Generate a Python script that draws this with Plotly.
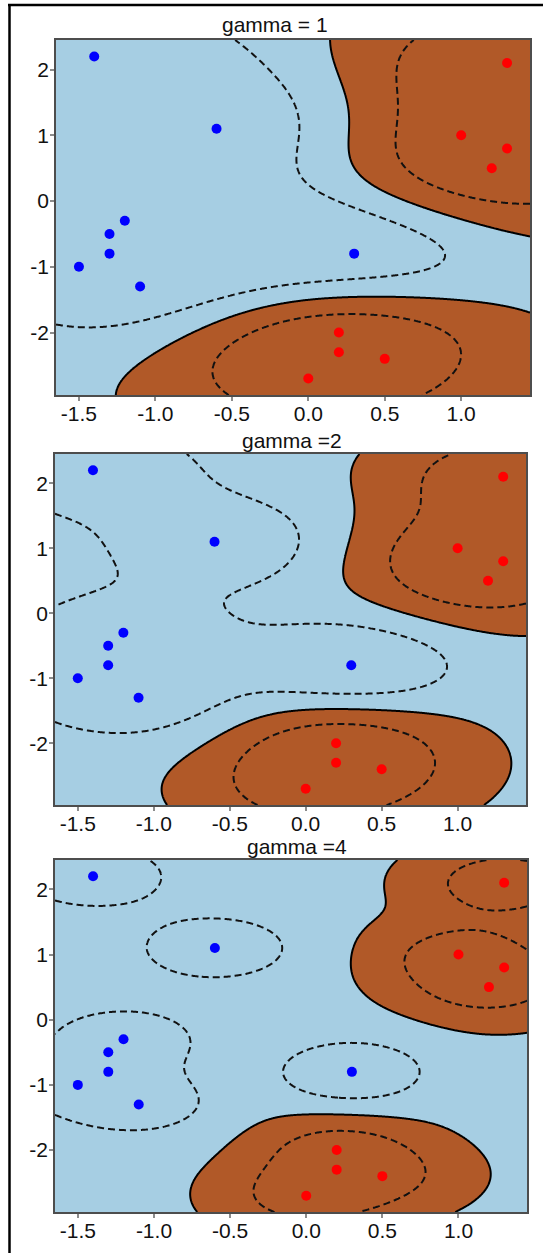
import numpy as np
import plotly.graph_objects as go

# Training points of the two classes
blue_x = [-1.4, -0.6, -1.2, -1.3, -1.3, -1.5, -1.1, 0.3]
blue_y = [2.2, 1.1, -0.3, -0.5, -0.8, -1.0, -1.3, -0.8]
red_x = [1.3, 1.0, 1.3, 1.2, 0.2, 0.2, 0.5, 0.0]
red_y = [2.1, 1.0, 0.8, 0.5, -2.0, -2.3, -2.4, -2.7]

# RBF kernel widths, one panel each
gammas = [1, 2, 4]
titles = ["gamma = 1", "gamma =2", "gamma =4"]
penalty_C = 1.0
margin_levels = [-0.5, 0.5]

x_ticks = [-1.5, -1.0, -0.5, 0.0, 0.5, 1.0]
x_tick_text = ["-1.5", "-1.0", "-0.5", "0.0", "0.5", "1.0"]
y_ticks = [-2, -1, 0, 1, 2]
y_tick_text = ["-2", "-1", "0", "1", "2"]

x_range = [-1.65, 1.45]
y_range = [-2.95, 2.45]

W, H = 543, 1253
# panel boxes in pixels: left, right, top, bottom
panels = [(56, 530, 40, 395), (55, 526, 454, 805), (55, 527, 860, 1212)]
title_pos = [(275, 25), (292, 440), (297, 846)]
FONT = "Liberation Sans, Arial"


def rbf(A, B, gamma):
    d2 = ((A[:, None, :] - B[None, :, :]) ** 2).sum(-1)
    return np.exp(-gamma * d2)


def fit_svc(X, y, gamma, C, tol=1e-9, max_iter=200000):
    """Dual C-SVC solved with maximal-violating-pair SMO (libsvm style)."""
    n = len(y)
    K = rbf(X, X, gamma)
    Q = (y[:, None] * y[None, :]) * K
    a = np.zeros(n)
    G = -np.ones(n)
    eps = 1e-12
    for _ in range(max_iter):
        up = ((y > 0) & (a < C - eps)) | ((y < 0) & (a > eps))
        low = ((y > 0) & (a > eps)) | ((y < 0) & (a < C - eps))
        v = -y * G
        iu = np.where(up)[0]
        il = np.where(low)[0]
        i = iu[np.argmax(v[iu])]
        j = il[np.argmin(v[il])]
        if v[i] - v[j] < tol:
            break
        quad = max(K[i, i] + K[j, j] - 2 * K[i, j], 1e-12)
        t = (v[i] - v[j]) / quad
        ti = C - a[i] if y[i] > 0 else a[i]
        tj = a[j] if y[j] > 0 else C - a[j]
        t = min(t, ti, tj)
        a[i] = np.clip(a[i] + y[i] * t, 0, C)
        a[j] = np.clip(a[j] - y[j] * t, 0, C)
        G += t * (y[i] * Q[:, i] - y[j] * Q[:, j])
    yG = y * G
    at_ub = a >= C - 1e-9
    at_lb = a <= 1e-9
    free = ~at_ub & ~at_lb
    if free.any():
        rho = yG[free].mean()
    else:
        ub = yG[(at_ub & (y < 0)) | (at_lb & (y > 0))].min()
        lb = yG[(at_ub & (y > 0)) | (at_lb & (y < 0))].max()
        rho = 0.5 * (ub + lb)
    return a * y, rho


X = np.column_stack([blue_x + red_x, blue_y + red_y])
labels = np.array([-1.0] * len(blue_x) + [1.0] * len(red_x))

gx = np.linspace(x_range[0], x_range[1], 420)
gy = np.linspace(y_range[0], y_range[1], 420)
GX, GY = np.meshgrid(gx, gy)
grid = np.column_stack([GX.ravel(), GY.ravel()])

fig = go.Figure()
layout_axes = {}

for k, (gamma, title) in enumerate(zip(gammas, titles)):
    coef, rho = fit_svc(X, labels, gamma, penalty_C)
    Z = (rbf(grid, X, gamma) @ coef - rho).reshape(GX.shape)

    xa = "x" if k == 0 else f"x{k + 1}"
    ya = "y" if k == 0 else f"y{k + 1}"

    fig.add_trace(go.Heatmap(
        x=gx, y=gy, z=(Z > 0).astype(int), zmin=0, zmax=1,
        colorscale=[[0, "#a6cee3"], [1, "#b15928"]],
        showscale=False, zsmooth=False, hoverinfo="skip",
        xaxis=xa, yaxis=ya))
    fig.add_trace(go.Contour(
        x=gx, y=gy, z=Z, showscale=False, hoverinfo="skip",
        contours=dict(coloring="none", start=margin_levels[0],
                      end=margin_levels[1],
                      size=margin_levels[1] - margin_levels[0]),
        line=dict(color="#111111", width=2, dash="7px,4px"),
        xaxis=xa, yaxis=ya))
    fig.add_trace(go.Contour(
        x=gx, y=gy, z=Z, showscale=False, hoverinfo="skip",
        contours=dict(coloring="none", start=0, end=0, size=1),
        line=dict(color="black", width=2),
        xaxis=xa, yaxis=ya))
    fig.add_trace(go.Scatter(
        x=blue_x, y=blue_y, mode="markers",
        marker=dict(color="#0000ff", size=10), hoverinfo="skip",
        xaxis=xa, yaxis=ya))
    fig.add_trace(go.Scatter(
        x=red_x, y=red_y, mode="markers",
        marker=dict(color="#ff0000", size=10), hoverinfo="skip",
        xaxis=xa, yaxis=ya))

    left, right, top, bottom = panels[k]
    axis_style = dict(showgrid=False, zeroline=False, showline=True,
                      mirror=True, linecolor="#4d4d4d", linewidth=1.5,
                      ticks="outside", ticklen=4, tickcolor="#8c8c8c",
                      tickwidth=1.5,
                      tickfont=dict(family=FONT, size=21, color="#111111"))
    layout_axes["xaxis" if k == 0 else f"xaxis{k + 1}"] = dict(
        axis_style, range=x_range, tickvals=x_ticks, ticktext=x_tick_text,
        ticklabelstandoff=-5,
        domain=[left / W, right / W], anchor=ya)
    layout_axes["yaxis" if k == 0 else f"yaxis{k + 1}"] = dict(
        axis_style, range=y_range, tickvals=y_ticks, ticktext=y_tick_text,
        ticklabelstandoff=-3,
        domain=[1 - bottom / H, 1 - top / H], anchor=xa)

    tx, ty = title_pos[k]
    fig.add_annotation(text=title, xref="paper", yref="paper",
                       x=tx / W, y=1 - ty / H, xanchor="center",
                       yanchor="middle", showarrow=False,
                       font=dict(family=FONT, size=21, color="#111111"))

# frame lines along the top and left edges
fig.add_shape(type="line", xref="paper", yref="paper",
              x0=8 / W, x1=1, y0=1 - 5 / H, y1=1 - 5 / H,
              line=dict(color="black", width=2.5))
fig.add_shape(type="line", xref="paper", yref="paper",
              x0=9.5 / W, x1=9.5 / W, y0=0, y1=1 - 4 / H,
              line=dict(color="black", width=2.5))

fig.update_layout(width=W, height=H, margin=dict(l=0, r=0, t=0, b=0),
                  paper_bgcolor="white", plot_bgcolor="white",
                  showlegend=False, **layout_axes)

fig.write_html("out.html")
